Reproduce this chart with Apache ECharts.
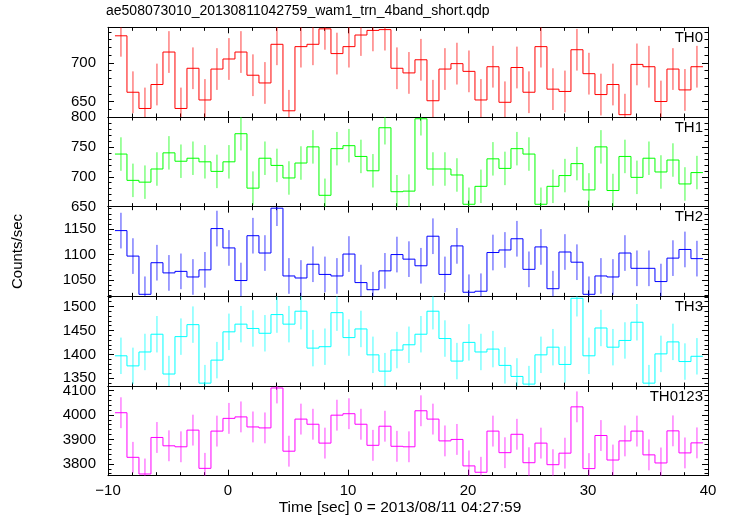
<!DOCTYPE html>
<html><head><meta charset="utf-8">
<script src="https://cdn.jsdelivr.net/npm/echarts@6/dist/echarts.min.js"></script>
<style>html,body{margin:0;padding:0;background:#fff}#c{width:729px;height:516px}</style>
</head><body><div id="c"></div>
<script>
const chartTitle = 'ae508073010_20130811042759_wam1_trn_4band_short.qdp';
const xTitle = 'Time [sec] 0 = 2013/08/11 04:27:59';
const yTitle = 'Counts/sec';
const binWidth = 1.0;
const times = [-8.92,-7.92,-6.92,-5.92,-4.92,-3.92,-2.92,-1.92,-0.92,0.08,1.08,2.08,3.08,4.08,5.08,6.08,7.08,8.08,9.08,10.08,11.08,12.08,13.08,14.08,15.08,16.08,17.08,18.08,19.08,20.08,21.08,22.08,23.08,24.08,25.08,26.08,27.08,28.08,29.08,30.08,31.08,32.08,33.08,34.08,35.08,36.08,37.08,38.08,39.08];
const th0 = [735,662,641,672,714,641,693,652,692,705,714,684,674,724,638,721,724,744,712,721,736,742,743,693,687,704,651,692,699,689,652,695,649,694,662,721,666,663,717,686,659,672,633,698,695,650,692,665,695];
const th1 = [738,694,691,713,740,726,731,725,709,725,772,681,731,719,698,723,750,669,747,752,734,710,782,675,676,797,713,713,703,654,684,730,714,747,738,654,684,702,722,678,750,677,734,699,731,708,728,688,707];
const th2 = [1147,1097,1022,1084,1064,1067,1056,1070,1151,1113,1049,1137,1103,1191,1058,1054,1081,1061,1058,1101,1045,1031,1068,1100,1091,1078,1136,1061,1117,1026,1028,1104,1109,1131,1071,1115,1033,1105,1085,1022,1058,1056,1103,1073,1073,1047,1093,1110,1092];
const th3 = [1397,1376,1405,1442,1359,1437,1462,1340,1388,1447,1463,1454,1444,1483,1463,1490,1413,1416,1487,1435,1453,1399,1365,1409,1420,1442,1490,1433,1386,1425,1405,1411,1377,1354,1338,1399,1415,1379,1517,1397,1455,1415,1429,1467,1340,1401,1426,1385,1396];
const th0123 = [4009,3827,3759,3908,3874,3870,3938,3782,3934,3986,3992,3951,3947,4110,3852,3983,3962,3885,3999,4005,3962,3876,3954,3872,3870,4017,3983,3894,3900,3792,3766,3934,3846,3921,3805,3885,3797,3844,4033,3781,3916,3816,3894,3934,3837,3804,3935,3845,3886];
const bandNames = ['TH0','TH1','TH2','TH3','TH0123'];
const bandErr = [27, 28, 35, 38, 63];
const yMin = [630, 650, 1018, 1334, 3752];
const yMax = [746, 800, 1194, 1521, 4118];
const yLabels = [[650,700],[650,700,750,800],[1050,1100,1150],[1350,1400,1450,1500],[3800,3900,4000,4100]];
const yMinorStep = [10,10,10,10,20];
const xMin = -10, xMax = 40, xStep = 10;

const bands = [th0, th1, th2, th3, th0123];
const colors = ['#ff0000','#00ff00','#0000ff','#00ffff','#ff00ff'];
const FONT = "'Liberation Sans', Arial, Helvetica, sans-serif";
const L = 108, R = 21, TOP0 = 27.3, PH = 89.68;

function minorVals(lo, hi, step){
  const out = [];
  for (let v = Math.ceil(lo/step)*step; v <= hi; v += step) out.push(v);
  return out;
}
const fmt = v => String(v).replace('-', '\u2212');

const grids = [], xAxes = [], yAxes = [], series = [], graphics = [];
const axisLine = {show:true, onZero:false, lineStyle:{color:'#000', width:1}};
for (let k = 0; k < 5; k++) {
  grids.push({left:L, right:R, top:TOP0 + k*PH, height:PH, containLabel:false});
  ['bottom','top'].forEach(pos => {
    xAxes.push({
      type:'value', gridIndex:k, position:pos, min:xMin, max:xMax, interval:xStep,
      axisLine, splitLine:{show:false},
      axisTick:{show:true, inside:true, length:6, lineStyle:{color:'#000'}},
      minorTick:{show:true, splitNumber:5, length:3.5, lineStyle:{color:'#000'}},
      axisLabel:{show: (k===4 && pos==='bottom'), formatter:fmt, fontFamily:FONT, fontSize:15, color:'#000', margin:8}
    });
  });
  ['left','right'].forEach(pos => {
    yAxes.push({
      type:'value', gridIndex:k, position:pos, min:yMin[k], max:yMax[k],
      axisLine, splitLine:{show:false},
      axisTick:{show:true, inside:true, length:6, customValues:yLabels[k], lineStyle:{color:'#000'}},
      axisLabel:{show: pos==='left', customValues:yLabels[k], formatter:fmt, fontFamily:FONT, fontSize:15, color:'#000', margin:12,
        showMinLabel:true, showMaxLabel:true}
    });
    yAxes.push({
      type:'value', gridIndex:k, position:pos, min:yMin[k], max:yMax[k],
      axisLine:{show:false, onZero:false}, splitLine:{show:false},
      axisTick:{show:true, inside:true, length:3.5, customValues:minorVals(yMin[k], yMax[k], yMinorStep[k]), lineStyle:{color:'#000'}},
      axisLabel:{show:false}
    });
  });
  const vals = bands[k], err = bandErr[k], color = colors[k];
  const data = vals.map((v,i) => [times[i], v, err, i>0 ? vals[i-1] : null]);
  series.push({
    type:'custom', xAxisIndex:2*k, yAxisIndex:4*k, clip:true, silent:true,
    encode:{x:0, y:1},
    data,
    renderItem: function(params, api){
      const t = api.value(0), v = api.value(1), e = api.value(2), p = api.value(3);
      const hw = binWidth/2;
      const a = api.coord([t-hw, v]), b = api.coord([t+hw, v]);
      const lo = api.coord([t, v-e]), hi = api.coord([t, v+e]);
      const style = {stroke:color, lineWidth:1, fill:null};
      const children = [
        {type:'line', shape:{x1:a[0],y1:a[1],x2:b[0],y2:b[1]}, style},
        {type:'line', shape:{x1:lo[0],y1:lo[1],x2:hi[0],y2:hi[1]}, style:{stroke:color, lineWidth:1, opacity:0.75}}
      ];
      if (p != null && !isNaN(p)) {
        const q = api.coord([t-hw, p]);
        children.push({type:'line', shape:{x1:q[0],y1:q[1],x2:a[0],y2:a[1]}, style});
      }
      return {type:'group', children};
    }
  });
  graphics.push({type:'text', right: R + 5, top: TOP0 + k*PH + 3,
    style:{text:bandNames[k], font:'15px ' + FONT, fill:'#000'}});
}
graphics.push({type:'text', left:106, top:4, style:{text:chartTitle, font:'14px ' + FONT, fill:'#000'}});
graphics.push({type:'text', x:400, y:508, style:{text:xTitle, font:'15.5px ' + FONT, fill:'#000', align:'center', verticalAlign:'middle'}});
graphics.push({type:'text', x:18, y:251.5, rotation:Math.PI/2, style:{text:yTitle, font:'15px ' + FONT, fill:'#000', align:'center', verticalAlign:'middle'}});

const chart = echarts.init(document.getElementById('c'), null, {renderer:'canvas'});
chart.setOption({
  animation:false,
  backgroundColor:'#fff',
  grid:grids, xAxis:xAxes, yAxis:yAxes, series, graphic:graphics
});
</script>
</body></html>
